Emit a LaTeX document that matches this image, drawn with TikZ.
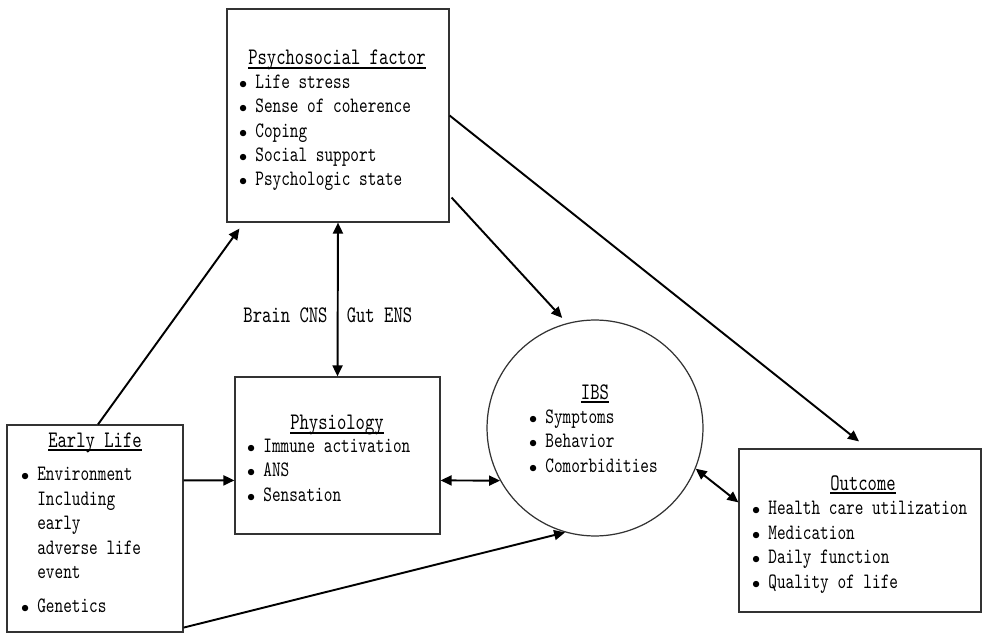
\documentclass[tikz,border=0pt]{standalone}
\usepackage{fontspec}
\setmainfont{lmmono10-regular.otf}[FakeStretch=0.75]
\usetikzlibrary{positioning, calc, arrows.meta}

\newcommand\ttlfont{\fontsize{13.5}{16}\selectfont}
\newcommand\lstfont{\fontsize{12.5}{13.94}\selectfont}
\newcommand\ttl[1]{\setbox0\hbox{#1}\rlap{\rule[-2.2pt]{\wd0}{0.8pt}}\box0}
\newcommand\bul{\llap{$\scriptstyle\bullet$\hspace{0.16cm}}}

\tikzset{
  box/.style={draw=black!80, line width=0.7pt, inner sep=0pt},
  head/.style={font=\ttlfont, anchor=base, inner sep=0pt},
  items/.style={font=\lstfont, align=left, anchor=base west, inner sep=0pt},
  link/.style={line width=1.1pt, -{Triangle[length=0.22cm, width=0.2cm]}},
  both/.style={line width=1.1pt, {Triangle[length=0.22cm, width=0.2cm]}-{Triangle[length=0.22cm, width=0.2cm]}}
}

\begin{document}
\begin{tikzpicture}[x=0.02cm, y=-0.02cm]
    \useasboundingbox (0,0) rectangle (983,634);

    %Boxes
    \node[box, minimum width=4.44cm, minimum height=4.26cm] (psy) at (338,115.5) {};
    \node[box, minimum width=3.52cm, minimum height=4.14cm] (early) at (95,528.5) {};
    \node[box, minimum width=4.1cm, minimum height=3.14cm] (phys) at (337.5,455.5) {};
    \node[box, circle, minimum size=4.32cm] (ibs) at (595,428) {};
    \node[box, minimum width=4.84cm, minimum height=3.26cm] (out) at (860,530.5) {};

    %Titles
    \node[head] (psyT) at (337,65) {\ttl{Psychosocial factor}};
    \node[head] (earlyT) at (95,447) {\ttl{Early Life}};
    \node[head] (physT) at (337,430) {\ttl{Physiology}};
    \node[head] (ibsT) at (595,399) {\ttl{IBS}};
    \node[head] (outT) at (863,490) {\ttl{Outcome}};

    %Lists (placed at the baseline of their last line)
    \node[items] (psyL) at (255,186) {\bul Life stress\\
        \bul Sense of coherence\\
        \bul Coping\\
        \bul Social support\\
        \bul Psychologic state};
    \node[items] (earlyL) at (37,612) {\bul Environment\\
        Including\\
        early\\
        adverse life\\
        event\\[0.18cm]
        \bul Genetics};
    \node[items] (physL) at (263,501) {\bul Immune activation\\
        \bul ANS\\
        \bul Sensation};
    \node[items] (ibsL) at (545,472) {\bul Symptoms\\
        \bul Behavior\\
        \bul Comorbidities};
    \node[items] (outL) at (768,588) {\bul Health care utilization\\
        \bul Medication\\
        \bul Daily function\\
        \bul Quality of life};

    %Axis labels
    \node[head] (brain) at (285.5,323) {Brain CNS};
    \node[head] (gut) at (379.5,323) {Gut ENS};

    %Lines
    \draw[link] ($(early.north)+(3,0)$) -- ($(psy.south west)+(13,6)$);
    \draw[both] (psy.south) -- (phys.north);
    \draw[link, shorten >=0.14cm] ($(psy.south east)+(2,-25)$) -- (ibs.105);
    \draw[link] (psy.east) -- ($(out.north)+(-1,-7)$);
    \draw[link] ($(early.north east)+(0,56)$) -- ($(phys.north west)+(0,104)$);
    \draw[both] ($(phys.north east)+(0,104)$) -- (ibs.209);
    \draw[link] ($(early.south east)+(0,-5)$) -- (ibs.254);
    \draw[both] (ibs.-22) -- ($(out.north west)+(0,54)$);
\end{tikzpicture}
\end{document}
